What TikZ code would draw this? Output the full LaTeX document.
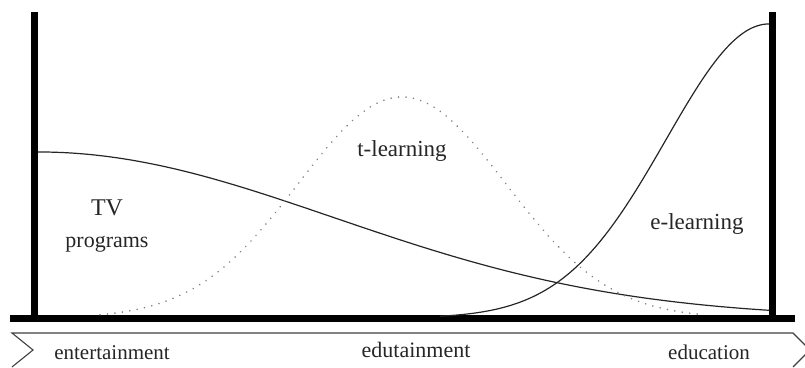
\documentclass[tikz,border=0pt]{standalone}
\usepackage{fontspec}
\setmainfont{Liberation Serif}
\begin{document}
\begin{tikzpicture}[x=1pt,y=1pt,
  bar/.style={line width=7pt, black},
  curve/.style={line width=1.2pt, black!85},
  dotcurve/.style={line width=1.8pt, black!50, dash pattern=on 0.01pt off 7.5pt, line cap=round},
  band/.style={line width=1.1pt, black!75},
  lbl/.style={inner sep=0pt, anchor=base, text=black!85}]
\useasboundingbox (0,0) rectangle (805,367);
% axes
\coordinate (lt) at (34.5,355);
\coordinate (lb) at (34.5,48.5);
\coordinate (rt) at (772,355);
\coordinate (rb) at (772,48.5);
\coordinate (bl) at (10,48.5);
\coordinate (br) at (795,48.5);
\draw[bar] (lt) -- (lb);
\draw[bar] (rt) -- (rb);
\draw[bar] (bl) -- (br);
% bottom arrow band
\coordinate (a1) at (12,0);
\coordinate (a2) at (33,17);
\coordinate (a3) at (12,34);
\coordinate (a4) at (793,34);
\coordinate (a5) at (810,17);
\coordinate (a6) at (793,0);
\draw[band] (a1) -- (a2) -- (a3) -- (a4) -- (a5) -- (a6);
% curves
\draw[curve] plot[domain=38:769, samples=120, smooth] (\x, {49+166*exp(-0.5*((\x-38)/295)^2)});
\draw[dotcurve] plot[domain=100:700, samples=150, smooth] (\x, {49+221*exp(-0.5*((\x-402)/104)^2)});
\draw[curve] plot[domain=440:769, samples=120, smooth] (\x, {49+294*exp(-0.5*((\x-769)/103)^2)});
% labels
\node[lbl, font=\fontsize{24}{28}\selectfont] (tv) at (107,151) {TV};
\node[lbl, font=\fontsize{22}{26}\selectfont] (prog) at (107,120) {programs};
\node[lbl, font=\fontsize{23}{27}\selectfont] (tl) at (402,210) {t-learning};
\node[lbl, font=\fontsize{23}{27}\selectfont] (el) at (697,137) {e-learning};
\node[lbl, font=\fontsize{21}{25}\selectfont] (ent) at (112,8) {entertainment};
\node[lbl, font=\fontsize{22}{26}\selectfont] (edu) at (416,10) {edutainment};
\node[lbl, font=\fontsize{21}{25}\selectfont] (educ) at (709,8) {education};
\end{tikzpicture}
\end{document}
